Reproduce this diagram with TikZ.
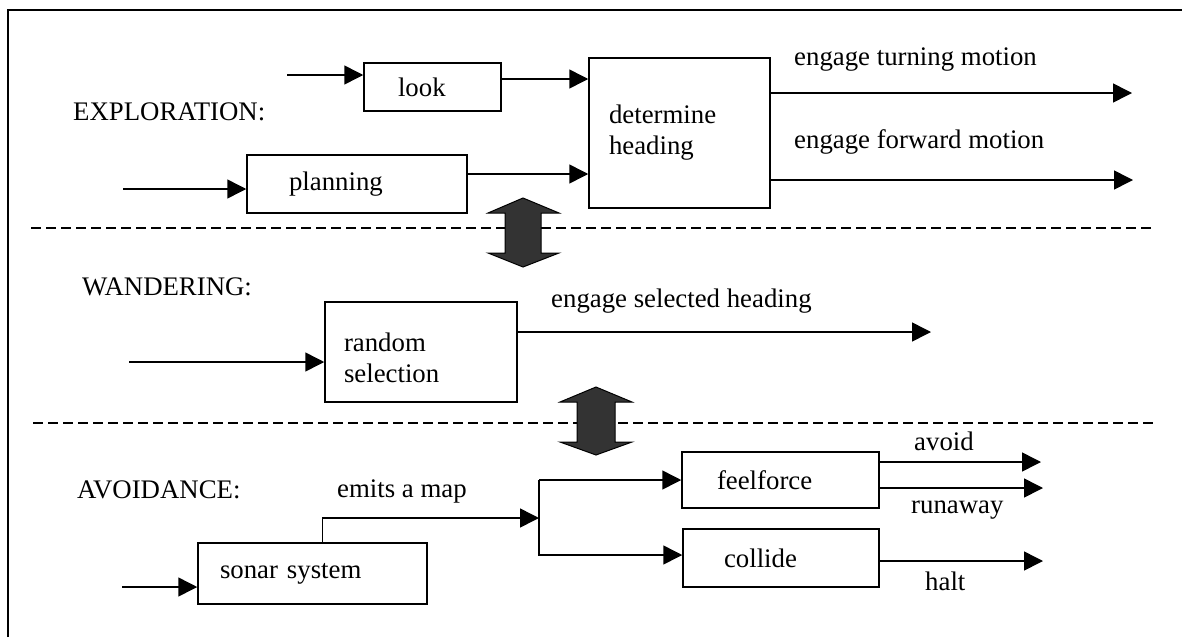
\documentclass[tikz,border=0pt]{standalone}
\usepackage{fontspec}
\setmainfont{Liberation Serif}
\usetikzlibrary{arrows.meta}

\begin{document}
\begin{tikzpicture}[
    x=1pt, y=-1pt,
    every node/.style={font=\fontsize{26.8}{31}\selectfont},
    box/.style={draw, line width=1.5pt, align=left, inner ysep=0pt},
    txt/.style={anchor=base west, inner sep=0pt},
    arrow/.style={-{Triangle[length=19pt,width=19pt]}, line width=1.5pt},
    divider/.style={line width=1.2pt, dash pattern=on 10pt off 5pt},
    handover/.style={fill=black!80, draw=black, line width=1pt}
  ]
  \useasboundingbox (0,0) rectangle (1182,637);

  % Frame
  \draw[line width=1.8pt] (8,637) -- (8,10) -- (1182,10);

  % Layer titles
  \node[txt] (explo) at (73,120) {EXPLORATION:};
  \node[txt] (wander) at (82,295) {WANDERING:};
  \node[txt] (avoid) at (77,498) {AVOIDANCE:};

  % Exploration
  \node[box, text width=69pt, inner xsep=34pt, minimum height=48pt] (look) at (432.5,87) {look};
  \node[box, text width=136pt, inner xsep=42pt, minimum height=58pt] (plan) at (357,184) {planning};
  \node[box, text width=141pt, inner xsep=20pt, minimum height=150pt] (det) at (679.5,133) {determine\\heading};
  \coordinate (lookin) at (287,75);
  \coordinate (planin) at (123,189);
  \coordinate (turnout) at (1132,93);
  \coordinate (fwdout) at (1133,180);
  \draw[arrow] (lookin) -- (lookin -| look.west);
  \draw[arrow] (planin) -- (planin -| plan.west);
  \draw[arrow] ([yshift=8pt]look.east) -- ([yshift=8pt]look.east -| det.west);
  \draw[arrow] ([yshift=10pt]plan.east) -- ([yshift=10pt]plan.east -| det.west);
  \draw[arrow] (turnout -| det.east) -- (turnout);
  \draw[arrow] (fwdout -| det.east) -- (fwdout);
  \node[txt] (turnlbl) at (794,65) {engage turning motion};
  \node[txt] (fwdlbl) at (794,148) {engage forward motion};

  % Wandering
  \node[box, text width=154pt, inner xsep=19pt, minimum height=100pt, text depth=19pt] (rand) at (421,352) {random\\selection};
  \coordinate (randin) at (129,362);
  \coordinate (randout) at (931,332);
  \draw[arrow] (randin) -- (randin -| rand.west);
  \draw[arrow] (randout -| rand.east) -- (randout);
  \node[txt] (sellbl) at (551,307) {engage selected heading};

  % Avoidance
  \node[box, text width=185pt, inner xsep=22pt, minimum height=61pt] (sonar) at (312.5,573.5) {sonar system};
  \node[box, text width=127pt, inner xsep=35pt, minimum height=56pt] (feel) at (780.5,480) {feelforce};
  \node[box, text width=114pt, inner xsep=41pt, minimum height=58pt] (coll) at (781,558) {collide};
  \coordinate (sonarin) at (122,587);
  \coordinate (split) at (539,518);
  \coordinate (avoidout) at (1041,462);
  \coordinate (runout) at (1043,488);
  \coordinate (haltout) at (1043,561);
  \draw[arrow] (sonarin) -- (sonarin -| sonar.west);
  \draw[arrow] ([xshift=10pt]sonar.north) |- (split);
  \draw[arrow] (split |- feel.west) -- (feel.west);
  \draw[arrow] (split |- feel.west) |- ([yshift=3pt]coll.west);
  \draw[arrow] (avoidout -| feel.east) -- (avoidout);
  \draw[arrow] (runout -| feel.east) -- (runout);
  \draw[arrow] (haltout -| coll.east) -- (haltout);
  \node[txt] (maplbl) at (337,497) {emits a map};
  \node[txt] (avoidlbl) at (914,450) {avoid};
  \node[txt] (runlbl) at (911,513) {runaway};
  \node[txt] (haltlbl) at (925,590) {halt};

  % Layer borders and subsumption arrows
  \draw[divider] (31,228) -- (1154,228);
  \draw[divider] (33,423) -- (1156,423);
  \filldraw[handover] (523,198) -- (559,213) -- (541,213) -- (541,253) -- (559,253)
    -- (523,267) -- (488,253) -- (505,253) -- (505,213) -- (488,213) -- cycle;
  \filldraw[handover] (596,387) -- (632,402) -- (615,402) -- (615,442) -- (632,442)
    -- (596,455) -- (560,442) -- (577,442) -- (577,402) -- (560,402) -- cycle;
\end{tikzpicture}
\end{document}
